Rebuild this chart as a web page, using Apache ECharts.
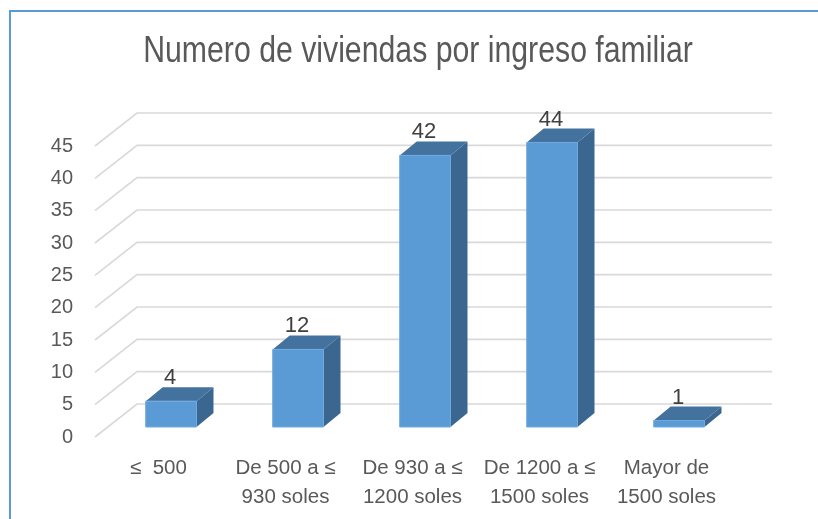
<!DOCTYPE html>
<html>
<head>
<meta charset="utf-8">
<script src="https://cdn.jsdelivr.net/npm/echarts@6/dist/echarts.min.js"></script>
<style>
  html, body { margin: 0; padding: 0; background: #fff; }
  #chart { width: 818px; height: 519px; }
</style>
</head>
<body>
<div id="chart"></div>
<script>
// datos
var categories = ['≤  500', 'De 500 a ≤\n930 soles', 'De 930 a ≤\n1200 soles', 'De 1200 a ≤\n1500 soles', 'Mayor de\n1500 soles'];
var viviendas = [4, 12, 42, 44, 1];
var yTicks = [0, 5, 10, 15, 20, 25, 30, 35, 40, 45];

var FONT = "'Liberation Sans', Arial, sans-serif";

// profundidad del efecto 3D (pared del fondo)
var DX = 42, DY = -33;
// posicion de la cara frontal de la barra y su profundidad
var BX = 12.6, BY = -10;
var SX = 17, SY = -14;

var chart = echarts.init(document.getElementById('chart'));

var option = {
  animation: false,
  backgroundColor: '#fff',
  graphic: [
    {
      type: 'polyline',
      shape: { points: [[10, 519], [10, 11], [818, 11]] },
      style: { stroke: '#5B9BD5', lineWidth: 2, fill: null }
    },
    {
      // titulo (fuente estrecha simulada)
      type: 'text',
      x: 418,
      y: 52,
      scaleX: 0.84,
      style: {
        text: 'Numero de viviendas por ingreso familiar',
        align: 'center',
        verticalAlign: 'middle',
        fontFamily: FONT,
        fontSize: 36,
        fill: '#595959'
      }
    }
  ],
  grid: { left: 95, right: 88, top: 146, bottom: 82 },
  xAxis: {
    type: 'category',
    data: categories,
    axisLine: { show: false },
    axisTick: { show: false },
    axisLabel: {
      margin: 17,
      interval: 0,
      fontFamily: FONT,
      fontSize: 20.5,
      lineHeight: 29,
      color: '#595959'
    }
  },
  yAxis: {
    type: 'value',
    min: 0,
    max: 45,
    interval: 5,
    axisLine: { show: false },
    axisTick: { show: false },
    splitLine: { show: false },
    axisLabel: { margin: 22, fontFamily: FONT, fontSize: 20, color: '#595959' }
  },
  series: [
    {
      // lineas de division en perspectiva
      type: 'custom',
      clip: false,
      silent: true,
      data: yTicks.map(function (v) { return [0, v]; }),
      renderItem: function (params, api) {
        var p = api.coord([0, api.value(1)]);
        var x0 = params.coordSys.x;
        var x1 = x0 + params.coordSys.width;
        var y = p[1];
        return {
          type: 'polyline',
          shape: { points: [[x0, y], [x0 + DX, y + DY], [x1 + DX, y + DY]] },
          style: { stroke: '#D9D9D9', lineWidth: 1.6, fill: null }
        };
      }
    },
    {
      // barras 3D
      type: 'custom',
      clip: false,
      data: viviendas.map(function (v, i) { return [i, v]; }),
      renderItem: function (params, api) {
        var val = api.value(1);
        var top = api.coord([api.value(0), val]);
        var base = api.coord([api.value(0), 0]);
        var w = api.size([1, 0])[0] * 0.4;
        var l = top[0] - w / 2 + BX;
        var r = l + w;
        var t = top[1] + BY;
        var b = base[1] + BY;
        return {
          type: 'group',
          children: [
            {
              type: 'polygon',
              shape: { points: [[r, t], [r + SX, t + SY], [r + SX, b + SY], [r, b]] },
              style: { fill: '#3A6690' }
            },
            {
              type: 'polygon',
              shape: { points: [[l, t], [l + SX, t + SY], [r + SX, t + SY], [r, t]] },
              style: { fill: '#44729E' }
            },
            {
              type: 'rect',
              shape: { x: l, y: t, width: w, height: b - t },
              style: { fill: '#5B9BD5', stroke: '#6FA9DE', lineWidth: 1 }
            },
            {
              type: 'text',
              style: {
                text: String(val),
                x: (l + r) / 2 - 1,
                y: t + SY - 9,
                align: 'center',
                verticalAlign: 'middle',
                fontFamily: FONT,
                fontSize: 22,
                fill: '#404040'
              }
            }
          ]
        };
      }
    }
  ]
};

chart.setOption(option);
</script>
</body>
</html>
